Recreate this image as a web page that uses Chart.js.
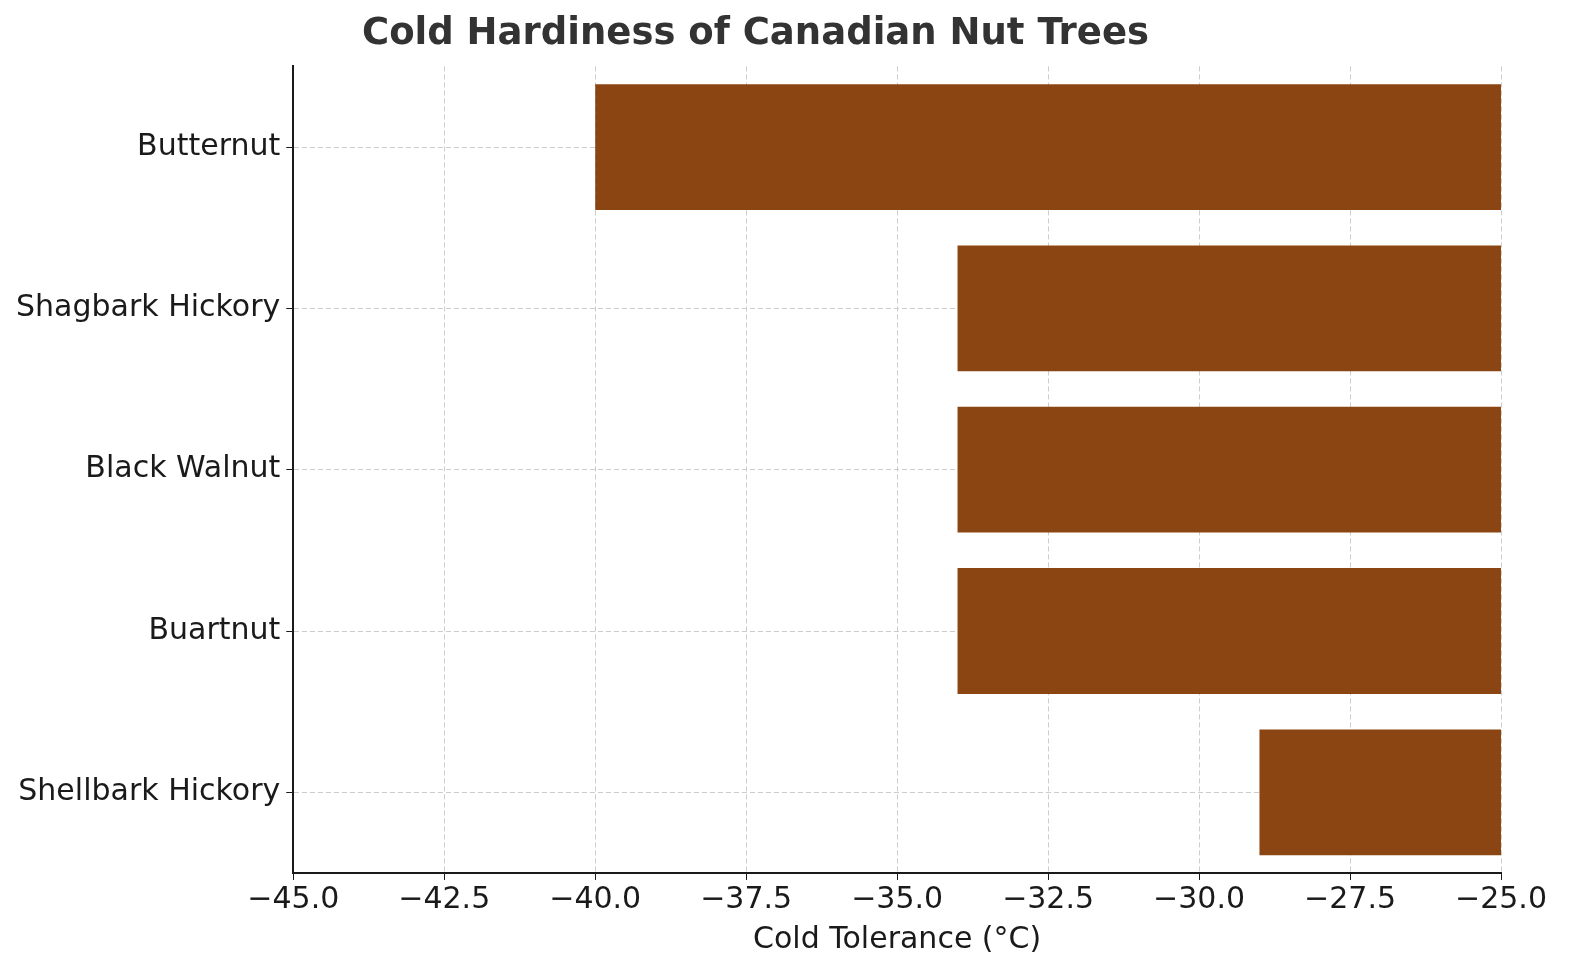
<!DOCTYPE html>
<html><head><meta charset="utf-8">
<script src="https://cdn.jsdelivr.net/npm/chart.js@4"></script>
<style>html,body{margin:0;padding:0;background:#fff}#w{width:1579px;height:980px}</style>
</head><body><div id="w"><canvas id="c"></canvas></div>
<script>
const categories = ["Butternut","Shagbark Hickory","Black Walnut","Buartnut","Shellbark Hickory"];
const coldTolerance = [-40,-34,-34,-34,-29];
const xMin = -45, xMax = -25, xStep = 2.5;
const titleText = "Cold Hardiness of Canadian Nut Trees";
const xTitle = "Cold Tolerance (°C)";
Chart.defaults.font.family = "'DejaVu Sans', sans-serif";
Chart.defaults.color = "#1a1a1a";
new Chart(document.getElementById('c'), {
  type: 'bar',
  data: { labels: categories, datasets: [{ data: coldTolerance, backgroundColor: '#8B4513', barPercentage: 1, categoryPercentage: 0.78 }] },
  options: {
    indexAxis: 'y', responsive: true, maintainAspectRatio: false, animation: false,
    layout: { padding: { left: 10, right: 78, top: 8, bottom: 18 } },
    plugins: { legend: { display: false }, tooltip: { enabled: false },
      title: { display: true, text: titleText, color: '#333', font: { size: 37, weight: 'bold' }, padding: { top: 4, bottom: 10 } } },
    scales: {
      x: { min: xMin, max: xMax,
        ticks: { stepSize: xStep, font: { size: 30 }, color: '#1a1a1a', callback: v => (v < 0 ? '\u2212' : '') + Math.abs(v).toFixed(1), maxRotation: 0, padding: 2 },
        grid: { color: '#cccccc', drawTicks: true, tickLength: 7, tickColor: '#1a1a1a' },
        border: { display: true, color: '#1a1a1a', width: 2, dash: [5, 3] },
        title: { display: true, text: xTitle, font: { size: 30 }, color: '#1a1a1a', padding: { top: 2 } } },
      y: { ticks: { font: { size: 30 }, color: '#1a1a1a', padding: 6 },
        grid: { color: '#cccccc', tickLength: 7, tickColor: '#1a1a1a', offset: false },
        border: { display: true, color: '#1a1a1a', width: 2, dash: [5, 3] } }
    }
  }
});
</script></body></html>
